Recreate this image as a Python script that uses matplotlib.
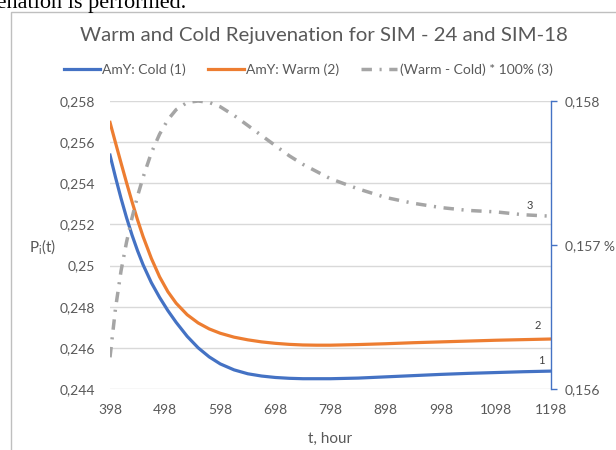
import numpy as np
import matplotlib.pyplot as plt
from matplotlib.patches import Rectangle

# ---------- data ----------
t_hours = [398, 408, 418, 428, 438, 448, 458, 473, 488, 503, 518, 538, 558, 578, 598,
           623, 648, 673, 698, 723, 748, 773, 798, 848, 898, 948, 998, 1048, 1098, 1148, 1198]

cold = [0.25537, 0.25429, 0.25327, 0.25233, 0.25148, 0.25072, 0.25004, 0.24917, 0.24845,
        0.24781, 0.24724, 0.24656, 0.24600, 0.24556, 0.24522, 0.24493, 0.24474, 0.24463,
        0.24456, 0.24452, 0.24450, 0.24450, 0.24450, 0.24453, 0.24459, 0.24465, 0.24471,
        0.24476, 0.24480, 0.24484, 0.24487]

warm = [0.25696, 0.25597, 0.25499, 0.25403, 0.25310, 0.25222, 0.25141, 0.25035, 0.24945,
        0.24873, 0.24817, 0.24761, 0.24721, 0.24692, 0.24671, 0.24652, 0.24639, 0.24629,
        0.24622, 0.24617, 0.24614, 0.24613, 0.24613, 0.24616, 0.24620, 0.24625, 0.24629,
        0.24633, 0.24637, 0.24640, 0.24643]

diff_pct = [0.15622, 0.15656, 0.15682, 0.15702, 0.15719, 0.15734, 0.15747, 0.15764, 0.15777,
            0.15787, 0.15794, 0.15799, 0.15800, 0.15799, 0.15796, 0.15790, 0.15783, 0.15776,
            0.15769, 0.15762, 0.15756, 0.15751, 0.15746, 0.15739, 0.15733, 0.15729, 0.15726,
            0.15724, 0.15723, 0.15721, 0.15720]

x_ticks = [398, 498, 598, 698, 798, 898, 998, 1098, 1198]
left_ticks = [0.244, 0.246, 0.248, 0.250, 0.252, 0.254, 0.256, 0.258]
left_labels = ['0,244', '0,246', '0,248', '0,25', '0,252', '0,254', '0,256', '0,258']
right_ticks = [0.156, 0.157, 0.158]
right_labels = ['0,156', '0,157 %', '0,158']

# ---------- style ----------
plt.rcParams['font.family'] = ['Lato', 'DejaVu Sans']
plt.rcParams['mathtext.default'] = 'regular'
txt_col = '#595959'
c_cold = '#4472C4'
c_warm = '#ED7D31'
c_diff = '#A5A5A5'

fig = plt.figure(figsize=(6.16, 4.5), dpi=100)
ax = fig.add_axes([110 / 616, 1 - 389 / 450, 441 / 616, 288 / 450])
ax2 = ax.twinx()

# chart frame (runs off the right/bottom edge like the screenshot)
fig.patches.append(Rectangle((11 / 616, -0.2), 1.2, 1.2 - 12 / 450,
                             transform=fig.transFigure, fill=False,
                             edgecolor='#BFBFBF', linewidth=1))

# cropped line of the surrounding document
fig.text(186 / 616, 1 - 8 / 450, 'rejuvenation is performed.', ha='right', va='baseline',
         family='Liberation Serif', fontsize=16, color='black')

l1, = ax.plot(t_hours, cold, color=c_cold, lw=2.3, label='AmY: Cold (1)')
l2, = ax.plot(t_hours, warm, color=c_warm, lw=2.3, label='AmY: Warm (2)')
l3, = ax2.plot(t_hours, diff_pct, color=c_diff, lw=2.5, linestyle=(0, (3, 2.2, 0.6, 2.2)),
               label='(Warm - Cold) * 100% (3)')

# left axis
ax.set_xlim(398, 1198)
ax.set_ylim(0.244, 0.258)
ax.set_xticks(x_ticks)
ax.set_xticklabels([str(v) for v in x_ticks])
ax.set_yticks(left_ticks)
ax.set_yticklabels(left_labels)
ax.tick_params(axis='both', length=0, labelsize=10, colors=txt_col)
ax.tick_params(axis='y', pad=11)
ax.tick_params(axis='x', pad=11)
ax.yaxis.grid(True, color='#D9D9D9', linewidth=1)
ax.set_axisbelow(True)
for s in ax.spines.values():
    s.set_visible(False)

# right axis
ax2.set_ylim(0.156, 0.158)
ax2.set_yticks(right_ticks)
ax2.set_yticklabels(right_labels)
ax2.tick_params(axis='y', length=4, width=1, color=c_cold, labelsize=10,
                labelcolor=txt_col, pad=6)
for name, s in ax2.spines.items():
    s.set_visible(name == 'right')
ax2.spines['right'].set_color(c_cold)
ax2.spines['right'].set_linewidth(1)

# curve numbers
ax.text(1181, 0.2454, '1', fontsize=8, color='#404040', ha='center', va='center')
ax.text(1174, 0.24708, '2', fontsize=8, color='#404040', ha='center', va='center')
ax.text(1160, 0.25294, '3', fontsize=8, color='#404040', ha='center', va='center')

ax.set_xlabel('t, hour', fontsize=11, color=txt_col, labelpad=11)
fig.text(29 / 616, 1 - 247 / 450, r'$P_i$(t)', fontsize=11, color=txt_col,
         ha='left', va='center')

fig.text(324 / 616, 1 - 35 / 450, 'Warm and Cold Rejuvenation for SIM - 24 and SIM-18',
         ha='center', va='center', fontsize=14.7, color=txt_col)

fig.legend(handles=[l1, l2, l3], loc='center', bbox_to_anchor=(308 / 616, 1 - 70 / 450),
           ncol=3, frameon=False, fontsize=10, handlelength=2.6, handletextpad=0.15,
           columnspacing=1.6, labelcolor=txt_col)

fig.savefig('out.png', dpi=100, facecolor='white')
